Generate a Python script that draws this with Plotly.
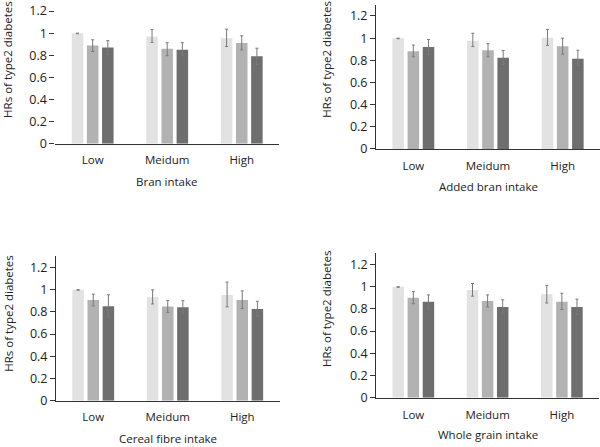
import plotly.graph_objects as go

levels = ["Low", "Meidum", "High"]
models = ["Model 1", "Model 2", "Model 3"]
colors = ["#e2e2e2", "#b2b2b2", "#6e6e6e"]

# HR point estimates, one list per model (Low, Meidum, High)
bran_hr = [[1.00, 0.97, 0.953], [0.888, 0.858, 0.911], [0.870, 0.849, 0.790]]
bran_lo = [[0.995, 0.917, 0.879], [0.834, 0.796, 0.849], [0.808, 0.796, 0.716]]
bran_hi = [[1.00, 1.033, 1.036], [0.940, 0.914, 0.976], [0.932, 0.914, 0.864]]

added_hr = [[1.00, 0.976, 1.003], [0.882, 0.891, 0.926], [0.921, 0.824, 0.815]]
added_lo = [[0.995, 0.924, 0.935], [0.832, 0.832, 0.856], [0.853, 0.762, 0.753]]
added_hi = [[1.00, 1.044, 1.079], [0.938, 0.950, 1.000], [0.988, 0.888, 0.891]]

cereal_hr = [[1.00, 0.933, 0.951], [0.907, 0.848, 0.907], [0.851, 0.842, 0.825]]
cereal_lo = [[0.995, 0.871, 0.845], [0.854, 0.795, 0.830], [0.754, 0.789, 0.757]]
cereal_hi = [[1.00, 0.998, 1.068], [0.959, 0.901, 0.989], [0.954, 0.901, 0.895]]

whole_hr = [[1.00, 0.971, 0.932], [0.900, 0.871, 0.865], [0.865, 0.818, 0.818]]
whole_lo = [[0.995, 0.915, 0.853], [0.847, 0.818, 0.794], [0.800, 0.756, 0.750]]
whole_hi = [[1.00, 1.029, 1.012], [0.956, 0.926, 0.941], [0.926, 0.882, 0.888]]

panels = [
    ("Bran intake", bran_hr, bran_lo, bran_hi),
    ("Added bran intake", added_hr, added_lo, added_hi),
    ("Cereal fibre intake", cereal_hr, cereal_lo, cereal_hi),
    ("Whole grain intake", whole_hr, whole_lo, whole_hi),
]

FONT = "Open Sans"
TXT = "#222222"
W, H = 600, 447

# pixel boxes of each plot area: (x0, x1, y_top, y_bottom)
boxes = [(55.4, 279, 0, 146.3), (376, 600, 5, 151.7), (56, 279.5, 261, 408), (376.2, 599, 258, 405)]
xtitle_pos = [(166.7, 184.5), (488.3, 189.5), (168, 446), (488.3, 442)]
ytitle_pos = [(8, 61), (326.7, 60), (8.5, 319), (326.7, 314)]
show_yline = [False, True, True, True]

fig = go.Figure()
layout = dict(
    width=W, height=H, paper_bgcolor="white", plot_bgcolor="white",
    showlegend=False, barmode="group", bargap=0.39, bargroupgap=0.24,
    margin=dict(l=0, r=0, t=0, b=0),
    font=dict(family=FONT, size=11.5, color=TXT),
)
annotations = []

for i, (title, hr, lo, hi) in enumerate(panels):
    n = "" if i == 0 else str(i + 1)
    for m in range(3):
        fig.add_trace(go.Bar(
            x=levels, y=hr[m], name=models[m], marker_color=colors[m],
            marker_line_width=0, xaxis="x" + n, yaxis="y" + n,
            error_y=dict(type="data", symmetric=False,
                         array=[h - v for h, v in zip(hi[m], hr[m])],
                         arrayminus=[v - l for v, l in zip(hr[m], lo[m])],
                         color="#7a7a7a", thickness=1, width=1.5),
        ))
    x0, x1, yt, yb = boxes[i]
    layout["xaxis" + n] = dict(
        domain=[x0 / W, x1 / W], anchor="y" + n, showgrid=False,
        showline=True, linecolor="#333333", linewidth=1,
        ticks="outside", ticklen=6, tickcolor="rgba(0,0,0,0)",
        tickfont=dict(size=11.5, color=TXT), fixedrange=True,
    )
    layout["yaxis" + n] = dict(
        domain=[(H - yb) / H, (H - yt) / H], anchor="x" + n, range=[0, 1.3],
        tickvals=[0, 0.2, 0.4, 0.6, 0.8, 1, 1.2],
        ticktext=["0", "0.2", "0.4", "0.6", "0.8", "1", "1.2"],
        showgrid=False, zeroline=False, showline=show_yline[i], linecolor="#333333",
        linewidth=1, ticks="outside", ticklen=5, tickcolor="#333333",
        tickfont=dict(size=12.5, color=TXT), fixedrange=True,
    )
    tx, ty = xtitle_pos[i]
    annotations.append(dict(text=title, x=tx / W, y=1 - ty / H, xref="paper", yref="paper",
                            showarrow=False, xanchor="center", yanchor="middle",
                            font=dict(size=11.5, color=TXT)))
    ax, ay = ytitle_pos[i]
    annotations.append(dict(text="HRs of type2 diabetes", x=ax / W, y=1 - ay / H,
                            xref="paper", yref="paper", showarrow=False, textangle=-90,
                            xanchor="center", yanchor="middle",
                            font=dict(size=11.5, color=TXT)))

layout["annotations"] = annotations
fig.update_layout(**layout)
fig.write_html("out.html", config={"displayModeBar": False},
               post_script="document.body.style.margin='0';document.body.style.overflow='hidden';")
